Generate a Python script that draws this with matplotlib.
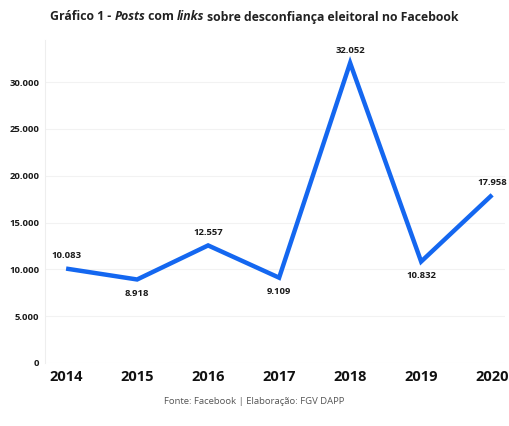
import matplotlib.pyplot as plt
from matplotlib.ticker import FuncFormatter
from matplotlib.offsetbox import TextArea, HPacker, AnchoredOffsetbox

years = [2014, 2015, 2016, 2017, 2018, 2019, 2020]
posts = [10083, 8918, 12557, 9109, 32052, 10832, 17958]
label_above = [True, False, True, False, True, False, True]

plt.rcParams['font.family'] = ['Open Sans', 'DejaVu Sans']


def br(v, pos=None):
    # brazilian thousands separator
    return f"{int(v):,}".replace(",", ".")


fig = plt.figure(figsize=(5.09, 4.26), dpi=100)
ax = fig.add_axes([0.088, 0.148, 0.904, 0.758])

ax.plot(years, posts, color='#1467f0', linewidth=3.2, solid_joinstyle='miter',
        solid_capstyle='butt')

for x, y, up in zip(years, posts, label_above):
    ax.annotate(br(y), (x, y), xytext=(0, 6 if up else -7), textcoords='offset points',
                ha='center', va='bottom' if up else 'top', fontsize=6.8,
                fontweight='bold', color='#1a1a1a')

ax.set_xlim(2013.7, 2020.18)
ax.set_ylim(0, 34500)
ax.set_yticks(range(0, 30001, 5000))
ax.yaxis.set_major_formatter(FuncFormatter(br))
ax.set_xticks(years)
ax.set_xticklabels([str(y) for y in years])
ax.tick_params(axis='y', length=0, labelsize=6.8, labelcolor='#1a1a1a', pad=4)
ax.tick_params(axis='x', length=0, labelsize=10.5, labelcolor='#111111', pad=5)
for t in ax.get_xticklabels() + ax.get_yticklabels():
    t.set_fontweight('bold')

ax.grid(axis='y', color='#f2f2f2', linewidth=0.8)
ax.set_axisbelow(True)
for s in ['top', 'right', 'bottom']:
    ax.spines[s].set_visible(False)
ax.spines['left'].set_color('#eeeeee')
ax.spines['left'].set_linewidth(0.8)

# title with italic words
parts = [("Gráfico 1 - ", 'normal'), ("Posts", 'italic'), (" com ", 'normal'),
         ("links", 'italic'), (" sobre desconfiança eleitoral no Facebook", 'normal')]
boxes = [TextArea(t, textprops=dict(fontsize=8.8, fontweight='bold', style=st,
                                    color='#222222')) for t, st in parts]
title = AnchoredOffsetbox(loc='center', child=HPacker(children=boxes, pad=0, sep=0),
                          bbox_to_anchor=(0.5, 1 - 17 / 426),
                          bbox_transform=fig.transFigure, frameon=False, pad=0,
                          borderpad=0)
fig.add_artist(title)

fig.text(0.5, 1 - 402 / 426, "Fonte: Facebook | Elaboração: FGV DAPP", ha='center',
         va='center', fontsize=6.8, color='#555555')

fig.savefig('out.png', dpi=100)
